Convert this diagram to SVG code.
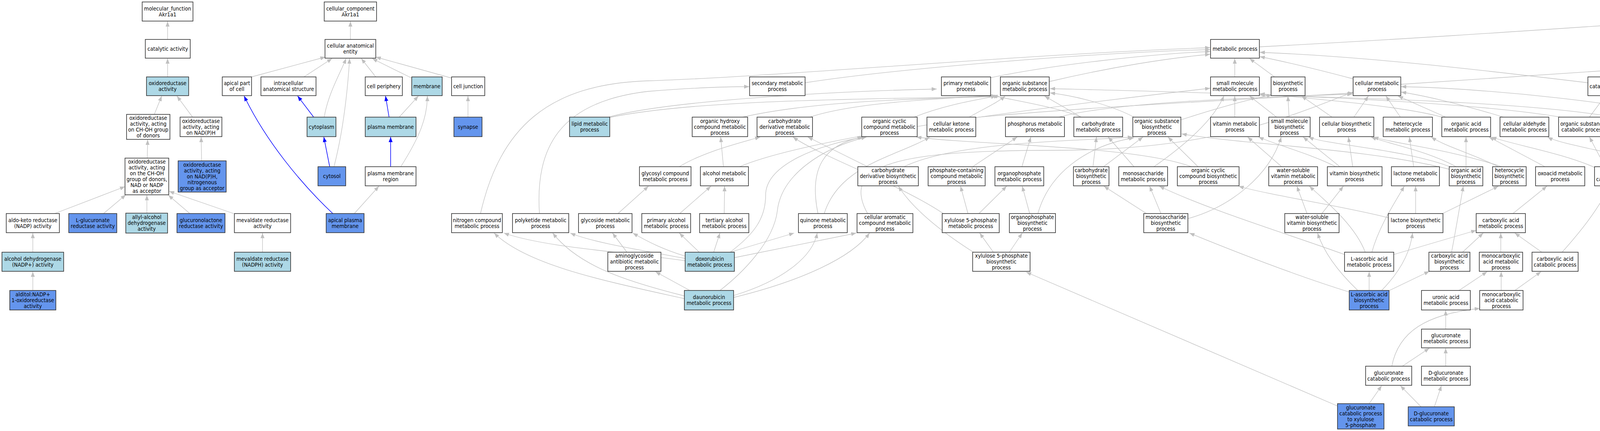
<svg xmlns="http://www.w3.org/2000/svg" width="4968" height="1104" viewBox="0 0 4968 1104">
<style>
.n rect{stroke:#333;stroke-width:1.6}
.w{fill:#fff}.lb{fill:#add8e6}.cb{fill:#6495ed}
.n text{font-family:"DejaVu Sans Condensed","DejaVu Sans",sans-serif;font-stretch:condensed;font-size:14px;text-anchor:middle;fill:#000}
.e path{fill:none;stroke:#c0c0c0;stroke-width:1.3;marker-end:url(#ag)}
.e path.b{stroke:#0000ff;stroke-width:1.5;marker-end:url(#ab)}
</style>
<defs>
<marker id="ag" viewBox="0 0 13 10" refX="13" refY="5" markerWidth="13" markerHeight="10" markerUnits="userSpaceOnUse" orient="auto"><path d="M0,0 L13,5 L0,10 z" fill="#c0c0c0"/></marker>
<marker id="ab" viewBox="0 0 13 10" refX="13" refY="5" markerWidth="13" markerHeight="10" markerUnits="userSpaceOnUse" orient="auto"><path d="M0,0 L13,5 L0,10 z" fill="#0000ff"/></marker>
</defs>
<rect width="4968" height="1104" fill="#fff"/>
<g id="edges" class="e">
<path d="M897,101 L897,55"/>
<path d="M640,198 L833,146"/>
<path d="M778,197 L850,150"/>
<path d="M830,300 C840,240 870,190 886,150"/>
<path d="M855,427 C880,330 890,230 895,150"/>
<path d="M962,197 L925,150"/>
<path d="M1054,200 L953,150"/>
<path d="M1156,200 L962,146"/>
<path class="b" d="M803,300 L762,246"/>
<path class="b" d="M844,427 L829,351"/>
<path class="b" d="M996,300 L987,246"/>
<path d="M1022,300 L1071,246"/>
<path class="b" d="M1000,427 L1000,351"/>
<path d="M1026,427 C1075,350 1094,300 1094,246"/>
<path d="M1198,300 L1198,246"/>
<path class="b" d="M852,547 C770,470 680,360 625,246"/>
<path d="M907,547 L970,477"/>
<path d="M429,101 L429,55"/>
<path d="M429,197 L429,150"/>
<path d="M395,293 L414,246"/>
<path d="M493,300 L453,246"/>
<path d="M377,405 L378,358"/>
<path d="M516,412 L515,351"/>
<path d="M140,547 L320,478"/>
<path d="M265,547 L322,499"/>
<path d="M376,546 L376,500"/>
<path d="M486,547 L431,500"/>
<path d="M598,547 L433,490"/>
<path d="M84,646 L84,597"/>
<path d="M84,744 L84,696"/>
<path d="M672,646 L672,597"/>
<path d="M3224,120 C3800,90 4300,50 4563,36"/>
<path d="M4583,101 L4609,55"/>
<path d="M4671,101 L4647,55"/>
<path d="M4896,427 C4905,280 4850,140 4684,55"/>
<path d="M4890,547 C4990,450 4920,260 4730,150"/>
<path d="M4563,197 L4564,150"/>
<path d="M4656,197 L4603,150"/>
<path d="M4686,197 L4686,150"/>
<path d="M3586,216 C4000,190 4400,160 4632,146"/>
<path d="M4065,212 C3800,180 3500,145 3225,134"/>
<path d="M3464,202 C3400,185 3300,160 3225,145"/>
<path d="M3161,197 L3161,150"/>
<path d="M3263,197 L3199,150"/>
<path d="M2686,209 C2850,170 3000,148 3098,139"/>
<path d="M2536,199 C2700,165 2950,138 3098,132"/>
<path d="M2061,212 C2300,175 2800,135 3098,127"/>
<path d="M1230,547 C1280,330 1400,215 1660,207 C2000,196 2600,140 3098,122"/>
<path d="M2711,300 C2850,262 3200,250 3462,241"/>
<path d="M1558,300 C1700,260 2100,235 2398,228"/>
<path d="M1555,302 C1800,250 2300,255 2552,246"/>
<path d="M1901,300 C2100,255 2400,252 2558,247"/>
<path d="M2073,300 C2200,258 2450,252 2545,244"/>
<path d="M2340,300 C2420,268 2500,256 2550,246"/>
<path d="M2481,300 C2520,278 2555,262 2573,246"/>
<path d="M2486,302 C2800,272 3200,255 3464,238"/>
<path d="M2768,300 C2700,272 2580,255 2541,244"/>
<path d="M2768,300 L2674,246"/>
<path d="M2903,300 C2850,272 2760,246 2688,238"/>
<path d="M3023,307 C3100,282 3180,258 3256,243"/>
<path d="M3161,300 L3161,246"/>
<path d="M3268,300 L3199,246"/>
<path d="M3300,300 L3297,246"/>
<path d="M3410,300 L3332,246"/>
<path d="M3466,300 L3503,246"/>
<path d="M3585,300 L3548,246"/>
<path d="M3701,300 L3579,246"/>
<path d="M3698,302 C3600,272 3350,252 3225,240"/>
<path d="M3849,300 C3750,270 3650,245 3587,236"/>
<path d="M4069,300 L4109,246"/>
<path d="M3995,300 C3700,250 3000,235 2688,227"/>
<path d="M4165,300 L4146,246"/>
<path d="M4145,302 C3900,258 3400,250 3225,243"/>
<path d="M4291,300 L4180,246"/>
<path d="M4290,302 C4200,268 3800,225 3587,222"/>
<path d="M4546,300 L4554,246"/>
<path d="M4656,300 L4596,246"/>
<path d="M4686,300 L4686,246"/>
<path d="M4773,300 L4605,243"/>
<path d="M1739,427 C1800,390 1880,370 1946,351"/>
<path d="M1852,427 L1845,351"/>
<path d="M1893,427 C2100,340 2800,260 3098,226"/>
<path d="M2221,427 L2068,351"/>
<path d="M2314,427 C2450,362 2750,362 2900,351"/>
<path d="M2490,427 L2604,351"/>
<path d="M2616,427 L2639,351"/>
<path d="M2798,427 L2807,351"/>
<path d="M2825,427 L2926,351"/>
<path d="M2903,427 L2837,351"/>
<path d="M2954,427 C3050,360 3110,300 3133,246"/>
<path d="M3067,427 L2990,351"/>
<path d="M3050,427 C2900,372 2500,372 2346,351"/>
<path d="M3281,427 L3194,351"/>
<path d="M3420,427 C3350,392 3270,372 3222,351"/>
<path d="M3430,427 L3336,351"/>
<path d="M3463,427 L3452,351"/>
<path d="M3619,427 L3608,351"/>
<path d="M3753,427 L3753,351"/>
<path d="M3728,427 C3650,385 3560,370 3510,351"/>
<path d="M3720,430 C3600,382 3400,372 3350,351"/>
<path d="M3712,434 C3500,380 3200,372 3025,343"/>
<path d="M3836,427 C3760,390 3700,375 3664,351"/>
<path d="M3845,427 C3700,380 3580,370 3516,351"/>
<path d="M3955,427 L3812,351"/>
<path d="M4109,427 L4069,351"/>
<path d="M4150,427 L4181,351"/>
<path d="M4176,427 L4293,351"/>
<path d="M4085,430 C4000,392 3880,372 3818,351"/>
<path d="M4250,427 C4150,392 4000,372 3962,351"/>
<path d="M4245,430 C4200,402 4140,372 4110,351"/>
<path d="M4299,427 L4327,351"/>
<path d="M4437,427 C4430,330 4460,270 4521,240"/>
<path d="M4586,427 L4554,351"/>
<path d="M4617,427 L4666,351"/>
<path d="M4745,427 L4703,351"/>
<path d="M4771,427 L4807,351"/>
<path class="b" d="M4878,427 L4841,351"/>
<path d="M1582,547 L1660,477"/>
<path d="M1381,547 C1370,380 1430,260 1660,234 C1760,226 1850,222 1918,222"/>
<path d="M1740,547 L1820,477"/>
<path d="M1854,547 L1855,477"/>
<path d="M2094,547 C2070,430 2110,370 2208,351"/>
<path d="M2110,547 C2150,420 2300,400 2380,351"/>
<path d="M2221,547 C2150,420 2300,385 2700,385 C3100,385 3300,300 3463,236"/>
<path d="M2415,547 C2300,470 2100,400 2030,351"/>
<path d="M2478,547 L2459,477"/>
<path d="M2506,547 L2577,477"/>
<path d="M2636,547 L2617,477"/>
<path d="M2657,547 C2690,430 2800,370 2903,353"/>
<path d="M2972,547 L2943,477"/>
<path d="M2935,547 L2826,477"/>
<path d="M3041,560 C3150,530 3250,450 3280,351"/>
<path d="M3346,547 L3320,477"/>
<path d="M3384,547 L3439,477"/>
<path d="M3624,547 L3624,477"/>
<path d="M3693,547 L3836,477"/>
<path d="M3555,558 C3450,530 3250,500 3171,477"/>
<path d="M3873,547 L3960,477"/>
<path d="M4567,547 L4473,477"/>
<path d="M4599,547 L4599,477"/>
<path class="b" d="M4810,547 L4773,477"/>
<path d="M4839,547 L4875,477"/>
<path d="M1605,646 L1568,597"/>
<path d="M1754,656 C1700,640 1660,620 1620,597"/>
<path d="M1754,668 C1600,645 1400,635 1290,597"/>
<path d="M1754,662 C1650,642 1520,622 1460,597"/>
<path d="M1790,646 L1739,597"/>
<path d="M1827,646 L1843,597"/>
<path d="M1869,646 L2033,597"/>
<path d="M1880,660 L2192,597"/>
<path d="M1869,646 C1930,600 1960,560 1960,500 C1960,420 2100,370 2212,351"/>
<path d="M1766,744 L1678,696"/>
<path d="M1752,765 C1550,720 1350,680 1265,597"/>
<path d="M1752,758 C1600,720 1480,680 1415,597"/>
<path d="M1878,757 C2000,720 2080,660 2092,597"/>
<path d="M1878,762 C2050,720 2180,660 2226,597"/>
<path d="M1843,744 C1900,700 1980,620 1990,540 C2000,450 2100,380 2218,351"/>
<path d="M2543,646 L2508,597"/>
<path d="M2584,646 L2617,597"/>
<path d="M2492,646 C2420,600 2340,540 2300,477"/>
<path d="M3495,646 C3470,580 3400,520 3352,477"/>
<path d="M3512,646 C3530,580 3570,520 3595,477"/>
<path d="M3568,652 L3779,590"/>
<path d="M3442,652 C3300,600 3100,540 2968,477"/>
<path d="M3744,646 L3797,597"/>
<path d="M3716,646 C3725,600 3735,540 3746,477"/>
<path d="M3842,646 L3842,597"/>
<path d="M3947,646 L3878,597"/>
<path d="M3999,646 C4040,600 4090,540 4120,477"/>
<path d="M3505,744 L3505,696"/>
<path d="M3476,744 C3430,700 3390,650 3373,597"/>
<path d="M3537,744 C3580,700 3610,650 3616,597"/>
<path d="M3557,744 L3659,695"/>
<path d="M3454,748 C3300,700 3150,640 3045,597"/>
<path d="M3735,744 L3807,696"/>
<path d="M3843,744 L3843,696"/>
<path d="M3878,744 L3945,696"/>
<path d="M3701,843 L3701,795"/>
<path d="M3590,938 L3659,892"/>
<path d="M3563,938 C3580,850 3650,805 3788,790"/>
<path d="M3701,938 L3701,892"/>
<path d="M3505,1034 L3537,988"/>
<path d="M3424,1040 L2627,697"/>
<path d="M3638,1042 L3585,988"/>
<path d="M3672,1042 L3690,988"/>
<path class="b" d="M4683,646 L4626,597"/>
<path d="M4738,646 L4792,597"/>
</g>
<g id="n-mf" class="n"><rect class="w" x="364" y="5" width="130" height="49"/><text x="429" y="26.5"><tspan x="429">molecular_function</tspan><tspan x="429" dy="15">Akr1a1</tspan></text></g>
<g id="n-cat" class="n"><rect class="w" x="372" y="101" width="115" height="48"/><text x="429.5" y="129.5">catalytic activity</text></g>
<g id="n-oxr" class="n"><rect class="lb" x="375" y="197" width="108" height="48"/><text x="429" y="218"><tspan x="429">oxidoreductase</tspan><tspan x="429" dy="15">activity</tspan></text></g>
<g id="n-choh" class="n"><rect class="w" x="324" y="293" width="111" height="64"/><text x="379.5" y="307"><tspan x="379.5">oxidoreductase</tspan><tspan x="379.5" dy="15">activity, acting</tspan><tspan x="379.5" dy="15">on CH-OH group</tspan><tspan x="379.5" dy="15">of donors</tspan></text></g>
<g id="n-nadph" class="n"><rect class="w" x="461" y="300" width="107" height="50"/><text x="514.5" y="314.5"><tspan x="514.5">oxidoreductase</tspan><tspan x="514.5" dy="15">activity, acting</tspan><tspan x="514.5" dy="15">on NAD(P)H</tspan></text></g>
<g id="n-nadp" class="n"><rect class="w" x="320" y="405" width="112" height="94"/><text x="376" y="419"><tspan x="376">oxidoreductase</tspan><tspan x="376" dy="15">activity, acting</tspan><tspan x="376" dy="15">on the CH-OH</tspan><tspan x="376" dy="15">group of donors,</tspan><tspan x="376" dy="15">NAD or NADP</tspan><tspan x="376" dy="15">as acceptor</tspan></text></g>
<g id="n-nitromf" class="n"><rect class="cb" x="456" y="412" width="123" height="80"/><text x="517.5" y="426.5"><tspan x="517.5">oxidoreductase</tspan><tspan x="517.5" dy="15">activity, acting</tspan><tspan x="517.5" dy="15">on NAD(P)H,</tspan><tspan x="517.5" dy="15">nitrogenous</tspan><tspan x="517.5" dy="15">group as acceptor</tspan></text></g>
<g id="n-akr" class="n"><rect class="w" x="16" y="547" width="136" height="49"/><text x="84" y="568.5"><tspan x="84">aldo-keto reductase</tspan><tspan x="84" dy="15">(NADP) activity</tspan></text></g>
<g id="n-lglr" class="n"><rect class="cb" x="176" y="547" width="123" height="49"/><text x="237.5" y="568.5"><tspan x="237.5">L-glucuronate</tspan><tspan x="237.5" dy="15">reductase activity</tspan></text></g>
<g id="n-allyl" class="n"><rect class="lb" x="322" y="546" width="107" height="51"/><text x="375.5" y="561"><tspan x="375.5">allyl-alcohol</tspan><tspan x="375.5" dy="15">dehydrogenase</tspan><tspan x="375.5" dy="15">activity</tspan></text></g>
<g id="n-glr" class="n"><rect class="cb" x="453" y="547" width="123" height="49"/><text x="514.5" y="568.5"><tspan x="514.5">glucuronolactone</tspan><tspan x="514.5" dy="15">reductase activity</tspan></text></g>
<g id="n-mev" class="n"><rect class="w" x="600" y="547" width="144" height="49"/><text x="672" y="568.5"><tspan x="672">mevaldate reductase</tspan><tspan x="672" dy="15">activity</tspan></text></g>
<g id="n-adh" class="n"><rect class="lb" x="5" y="646" width="158" height="49"/><text x="84" y="667.5"><tspan x="84">alcohol dehydrogenase</tspan><tspan x="84" dy="15">(NADP+) activity</tspan></text></g>
<g id="n-mevh" class="n"><rect class="lb" x="600" y="646" width="144" height="49"/><text x="672" y="667.5"><tspan x="672">mevaldate reductase</tspan><tspan x="672" dy="15">(NADPH) activity</tspan></text></g>
<g id="n-alditol" class="n"><rect class="cb" x="25" y="744" width="118" height="50"/><text x="84" y="758.5"><tspan x="84">alditol:NADP+</tspan><tspan x="84" dy="15">1-oxidoreductase</tspan><tspan x="84" dy="15">activity</tspan></text></g>
<g id="n-cc" class="n"><rect class="w" x="830" y="5" width="134" height="49"/><text x="897" y="26.5"><tspan x="897">cellular_component</tspan><tspan x="897" dy="15">Akr1a1</tspan></text></g>
<g id="n-cae" class="n"><rect class="w" x="832" y="101" width="130" height="48"/><text x="897" y="122"><tspan x="897">cellular anatomical</tspan><tspan x="897" dy="15">entity</tspan></text></g>
<g id="n-apc" class="n"><rect class="w" x="569" y="197" width="75" height="48"/><text x="606.5" y="218"><tspan x="606.5">apical part</tspan><tspan x="606.5" dy="15">of cell</tspan></text></g>
<g id="n-ias" class="n"><rect class="w" x="668" y="197" width="141" height="48"/><text x="738.5" y="218"><tspan x="738.5">intracellular</tspan><tspan x="738.5" dy="15">anatomical structure</tspan></text></g>
<g id="n-cper" class="n"><rect class="w" x="935" y="197" width="95" height="48"/><text x="982.5" y="225.5">cell periphery</text></g>
<g id="n-mem" class="n"><rect class="lb" x="1054" y="197" width="78" height="48"/><text x="1093" y="225.5">membrane</text></g>
<g id="n-cj" class="n"><rect class="w" x="1156" y="197" width="85" height="48"/><text x="1198.5" y="225.5">cell junction</text></g>
<g id="n-cyto" class="n"><rect class="lb" x="786" y="300" width="74" height="50"/><text x="823" y="329.5">cytoplasm</text></g>
<g id="n-pm" class="n"><rect class="lb" x="935" y="300" width="130" height="50"/><text x="1000" y="329.5">plasma membrane</text></g>
<g id="n-syn" class="n"><rect class="cb" x="1162" y="300" width="72" height="50"/><text x="1198" y="329.5">synapse</text></g>
<g id="n-cytosol" class="n"><rect class="cb" x="814" y="427" width="71" height="49"/><text x="849.5" y="456">cytosol</text></g>
<g id="n-pmr" class="n"><rect class="w" x="935" y="427" width="130" height="49"/><text x="1000" y="448.5"><tspan x="1000">plasma membrane</tspan><tspan x="1000" dy="15">region</tspan></text></g>
<g id="n-apm" class="n"><rect class="cb" x="835" y="547" width="97" height="49"/><text x="883.5" y="568.5"><tspan x="883.5">apical plasma</tspan><tspan x="883.5" dy="15">membrane</tspan></text></g>
<g id="n-bp" class="n"><rect class="w" x="4564" y="5" width="126" height="49"/><text x="4627" y="26.5"><tspan x="4627">biological_process</tspan><tspan x="4627" dy="15">Akr1a1</tspan></text></g>
<g id="n-metab" class="n"><rect class="w" x="3099" y="101" width="125" height="48"/><text x="3161.5" y="129.5">metabolic process</text></g>
<g id="n-rstim" class="n"><rect class="w" x="4525" y="101" width="83" height="48"/><text x="4566.5" y="122"><tspan x="4566.5">response to</tspan><tspan x="4566.5" dy="15">stimulus</tspan></text></g>
<g id="n-cellp" class="n"><rect class="w" x="4633" y="101" width="107" height="48"/><text x="4686.5" y="129.5">cellular process</text></g>
<g id="n-sec" class="n"><rect class="w" x="1919" y="197" width="142" height="48"/><text x="1990" y="218"><tspan x="1990">secondary metabolic</tspan><tspan x="1990" dy="15">process</tspan></text></g>
<g id="n-prim" class="n"><rect class="w" x="2410" y="197" width="126" height="48"/><text x="2473" y="218"><tspan x="2473">primary metabolic</tspan><tspan x="2473" dy="15">process</tspan></text></g>
<g id="n-osm" class="n"><rect class="w" x="2561" y="197" width="125" height="48"/><text x="2623.5" y="218"><tspan x="2623.5">organic substance</tspan><tspan x="2623.5" dy="15">metabolic process</tspan></text></g>
<g id="n-smm" class="n"><rect class="w" x="3099" y="197" width="125" height="48"/><text x="3161.5" y="218"><tspan x="3161.5">small molecule</tspan><tspan x="3161.5" dy="15">metabolic process</tspan></text></g>
<g id="n-bios" class="n"><rect class="w" x="3254" y="197" width="87" height="48"/><text x="3297.5" y="218"><tspan x="3297.5">biosynthetic</tspan><tspan x="3297.5" dy="15">process</tspan></text></g>
<g id="n-cmp" class="n"><rect class="w" x="3464" y="197" width="122" height="48"/><text x="3525" y="218"><tspan x="3525">cellular metabolic</tspan><tspan x="3525" dy="15">process</tspan></text></g>
<g id="n-catab" class="n"><rect class="w" x="4065" y="197" width="118" height="48"/><text x="4124" y="225.5">catabolic process</text></g>
<g id="n-rchem" class="n"><rect class="w" x="4521" y="197" width="83" height="48"/><text x="4562.5" y="218"><tspan x="4562.5">response to</tspan><tspan x="4562.5" dy="15">chemical</tspan></text></g>
<g id="n-crstim" class="n"><rect class="w" x="4627" y="197" width="118" height="48"/><text x="4686" y="218"><tspan x="4686">cellular response</tspan><tspan x="4686" dy="15">to stimulus</tspan></text></g>
<g id="n-lipid" class="n"><rect class="lb" x="1458" y="300" width="103" height="50"/><text x="1509.5" y="322"><tspan x="1509.5">lipid metabolic</tspan><tspan x="1509.5" dy="15">process</tspan></text></g>
<g id="n-ohc" class="n"><rect class="w" x="1772" y="300" width="142" height="50"/><text x="1843" y="314.5"><tspan x="1843">organic hydroxy</tspan><tspan x="1843" dy="15">compound metabolic</tspan><tspan x="1843" dy="15">process</tspan></text></g>
<g id="n-cdm" class="n"><rect class="w" x="1938" y="300" width="142" height="50"/><text x="2009" y="314.5"><tspan x="2009">carbohydrate</tspan><tspan x="2009" dy="15">derivative metabolic</tspan><tspan x="2009" dy="15">process</tspan></text></g>
<g id="n-occm" class="n"><rect class="w" x="2206" y="300" width="142" height="50"/><text x="2277" y="314.5"><tspan x="2277">organic cyclic</tspan><tspan x="2277" dy="15">compound metabolic</tspan><tspan x="2277" dy="15">process</tspan></text></g>
<g id="n-ckm" class="n"><rect class="w" x="2373" y="300" width="125" height="50"/><text x="2435.5" y="322"><tspan x="2435.5">cellular ketone</tspan><tspan x="2435.5" dy="15">metabolic process</tspan></text></g>
<g id="n-phos" class="n"><rect class="w" x="2574" y="300" width="151" height="50"/><text x="2649.5" y="322"><tspan x="2649.5">phosphorus metabolic</tspan><tspan x="2649.5" dy="15">process</tspan></text></g>
<g id="n-carbm" class="n"><rect class="w" x="2749" y="300" width="125" height="50"/><text x="2811.5" y="322"><tspan x="2811.5">carbohydrate</tspan><tspan x="2811.5" dy="15">metabolic process</tspan></text></g>
<g id="n-osb" class="n"><rect class="w" x="2900" y="300" width="123" height="50"/><text x="2961.5" y="314.5"><tspan x="2961.5">organic substance</tspan><tspan x="2961.5" dy="15">biosynthetic</tspan><tspan x="2961.5" dy="15">process</tspan></text></g>
<g id="n-vitm" class="n"><rect class="w" x="3099" y="300" width="125" height="50"/><text x="3161.5" y="322"><tspan x="3161.5">vitamin metabolic</tspan><tspan x="3161.5" dy="15">process</tspan></text></g>
<g id="n-smb" class="n"><rect class="w" x="3248" y="300" width="106" height="50"/><text x="3301" y="314.5"><tspan x="3301">small molecule</tspan><tspan x="3301" dy="15">biosynthetic</tspan><tspan x="3301" dy="15">process</tspan></text></g>
<g id="n-cbp" class="n"><rect class="w" x="3378" y="300" width="139" height="50"/><text x="3447.5" y="322"><tspan x="3447.5">cellular biosynthetic</tspan><tspan x="3447.5" dy="15">process</tspan></text></g>
<g id="n-hetm" class="n"><rect class="w" x="3541" y="300" width="126" height="50"/><text x="3604" y="322"><tspan x="3604">heterocycle</tspan><tspan x="3604" dy="15">metabolic process</tspan></text></g>
<g id="n-oam" class="n"><rect class="w" x="3691" y="300" width="125" height="50"/><text x="3753.5" y="322"><tspan x="3753.5">organic acid</tspan><tspan x="3753.5" dy="15">metabolic process</tspan></text></g>
<g id="n-cald" class="n"><rect class="w" x="3840" y="300" width="125" height="50"/><text x="3902.5" y="322"><tspan x="3902.5">cellular aldehyde</tspan><tspan x="3902.5" dy="15">metabolic process</tspan></text></g>
<g id="n-osc" class="n"><rect class="w" x="3990" y="300" width="124" height="50"/><text x="4052" y="322"><tspan x="4052">organic substance</tspan><tspan x="4052" dy="15">catabolic process</tspan></text></g>
<g id="n-smc" class="n"><rect class="w" x="4138" y="300" width="118" height="50"/><text x="4197" y="322"><tspan x="4197">small molecule</tspan><tspan x="4197" dy="15">catabolic process</tspan></text></g>
<g id="n-ccat" class="n"><rect class="w" x="4281" y="300" width="117" height="50"/><text x="4339.5" y="322"><tspan x="4339.5">cellular catabolic</tspan><tspan x="4339.5" dy="15">process</tspan></text></g>
<g id="n-roxy" class="n"><rect class="w" x="4477" y="300" width="126" height="50"/><text x="4540" y="314.5"><tspan x="4540">response to</tspan><tspan x="4540" dy="15">oxygen-containing</tspan><tspan x="4540" dy="15">compound</tspan></text></g>
<g id="n-crchem" class="n"><rect class="w" x="4627" y="300" width="118" height="50"/><text x="4686" y="314.5"><tspan x="4686">cellular response</tspan><tspan x="4686" dy="15">to chemical</tspan><tspan x="4686" dy="15">stimulus</tspan></text></g>
<g id="n-rtox" class="n"><rect class="w" x="4770" y="300" width="108" height="50"/><text x="4824" y="322"><tspan x="4824">response to</tspan><tspan x="4824" dy="15">toxic substance</tspan></text></g>
<g id="n-glycosyl" class="n"><rect class="w" x="1637" y="427" width="132" height="49"/><text x="1703" y="448.5"><tspan x="1703">glycosyl compound</tspan><tspan x="1703" dy="15">metabolic process</tspan></text></g>
<g id="n-alc" class="n"><rect class="w" x="1793" y="427" width="123" height="49"/><text x="1854.5" y="448.5"><tspan x="1854.5">alcohol metabolic</tspan><tspan x="1854.5" dy="15">process</tspan></text></g>
<g id="n-cdb" class="n"><rect class="w" x="2196" y="427" width="155" height="49"/><text x="2273.5" y="441"><tspan x="2273.5">carbohydrate</tspan><tspan x="2273.5" dy="15">derivative biosynthetic</tspan><tspan x="2273.5" dy="15">process</tspan></text></g>
<g id="n-pcc" class="n"><rect class="w" x="2376" y="427" width="146" height="49"/><text x="2449" y="441"><tspan x="2449">phosphate-containing</tspan><tspan x="2449" dy="15">compound metabolic</tspan><tspan x="2449" dy="15">process</tspan></text></g>
<g id="n-opm" class="n"><rect class="w" x="2547" y="427" width="125" height="49"/><text x="2609.5" y="448.5"><tspan x="2609.5">organophosphate</tspan><tspan x="2609.5" dy="15">metabolic process</tspan></text></g>
<g id="n-carbb" class="n"><rect class="w" x="2748" y="427" width="91" height="49"/><text x="2793.5" y="441"><tspan x="2793.5">carbohydrate</tspan><tspan x="2793.5" dy="15">biosynthetic</tspan><tspan x="2793.5" dy="15">process</tspan></text></g>
<g id="n-monom" class="n"><rect class="w" x="2864" y="427" width="125" height="49"/><text x="2926.5" y="448.5"><tspan x="2926.5">monosaccharide</tspan><tspan x="2926.5" dy="15">metabolic process</tspan></text></g>
<g id="n-occb" class="n"><rect class="w" x="3014" y="427" width="158" height="49"/><text x="3093" y="441"><tspan x="3093">organic cyclic</tspan><tspan x="3093" dy="15">compound biosynthetic</tspan><tspan x="3093" dy="15">process</tspan></text></g>
<g id="n-wsvm" class="n"><rect class="w" x="3248" y="427" width="125" height="49"/><text x="3310.5" y="441"><tspan x="3310.5">water-soluble</tspan><tspan x="3310.5" dy="15">vitamin metabolic</tspan><tspan x="3310.5" dy="15">process</tspan></text></g>
<g id="n-vitb" class="n"><rect class="w" x="3398" y="427" width="140" height="49"/><text x="3468" y="448.5"><tspan x="3468">vitamin biosynthetic</tspan><tspan x="3468" dy="15">process</tspan></text></g>
<g id="n-lacm" class="n"><rect class="w" x="3562" y="427" width="123" height="49"/><text x="3623.5" y="448.5"><tspan x="3623.5">lactone metabolic</tspan><tspan x="3623.5" dy="15">process</tspan></text></g>
<g id="n-oab" class="n"><rect class="w" x="3710" y="427" width="86" height="49"/><text x="3753" y="441"><tspan x="3753">organic acid</tspan><tspan x="3753" dy="15">biosynthetic</tspan><tspan x="3753" dy="15">process</tspan></text></g>
<g id="n-hetb" class="n"><rect class="w" x="3821" y="427" width="86" height="49"/><text x="3864" y="441"><tspan x="3864">heterocycle</tspan><tspan x="3864" dy="15">biosynthetic</tspan><tspan x="3864" dy="15">process</tspan></text></g>
<g id="n-oxo" class="n"><rect class="w" x="3931" y="427" width="126" height="49"/><text x="3994" y="448.5"><tspan x="3994">oxoacid metabolic</tspan><tspan x="3994" dy="15">process</tspan></text></g>
<g id="n-oac" class="n"><rect class="w" x="4082" y="427" width="118" height="49"/><text x="4141" y="448.5"><tspan x="4141">organic acid</tspan><tspan x="4141" dy="15">catabolic process</tspan></text></g>
<g id="n-aldc" class="n"><rect class="cb" x="4225" y="427" width="128" height="49"/><text x="4289" y="448.5"><tspan x="4289">aldehyde catabolic</tspan><tspan x="4289" dy="15">process</tspan></text></g>
<g id="n-rorg" class="n"><rect class="w" x="4378" y="427" width="124" height="49"/><text x="4440" y="448.5"><tspan x="4440">response to</tspan><tspan x="4440" dy="15">organic substance</tspan></text></g>
<g id="n-croxy" class="n"><rect class="w" x="4526" y="427" width="145" height="49"/><text x="4598.5" y="441"><tspan x="4598.5">cellular response</tspan><tspan x="4598.5" dy="15">to oxygen-containing</tspan><tspan x="4598.5" dy="15">compound</tspan></text></g>
<g id="n-crtox" class="n"><rect class="w" x="4694" y="427" width="126" height="49"/><text x="4757" y="448.5"><tspan x="4757">cellular response</tspan><tspan x="4757" dy="15">to toxic substance</tspan></text></g>
<g id="n-detox" class="n"><rect class="w" x="4844" y="427" width="95" height="49"/><text x="4891.5" y="456">detoxification</text></g>
<g id="n-nitro" class="n"><rect class="w" x="1156" y="547" width="130" height="49"/><text x="1221" y="568.5"><tspan x="1221">nitrogen compound</tspan><tspan x="1221" dy="15">metabolic process</tspan></text></g>
<g id="n-polyk" class="n"><rect class="w" x="1312" y="547" width="144" height="49"/><text x="1384" y="568.5"><tspan x="1384">polyketide metabolic</tspan><tspan x="1384" dy="15">process</tspan></text></g>
<g id="n-glycoside" class="n"><rect class="w" x="1481" y="547" width="137" height="49"/><text x="1549.5" y="568.5"><tspan x="1549.5">glycoside metabolic</tspan><tspan x="1549.5" dy="15">process</tspan></text></g>
<g id="n-primalc" class="n"><rect class="w" x="1643" y="547" width="125" height="49"/><text x="1705.5" y="568.5"><tspan x="1705.5">primary alcohol</tspan><tspan x="1705.5" dy="15">metabolic process</tspan></text></g>
<g id="n-tertalc" class="n"><rect class="w" x="1791" y="547" width="126" height="49"/><text x="1854" y="568.5"><tspan x="1854">tertiary alcohol</tspan><tspan x="1854" dy="15">metabolic process</tspan></text></g>
<g id="n-quin" class="n"><rect class="w" x="2044" y="547" width="125" height="49"/><text x="2106.5" y="568.5"><tspan x="2106.5">quinone metabolic</tspan><tspan x="2106.5" dy="15">process</tspan></text></g>
<g id="n-caro" class="n"><rect class="w" x="2194" y="547" width="143" height="49"/><text x="2265.5" y="561"><tspan x="2265.5">cellular aromatic</tspan><tspan x="2265.5" dy="15">compound metabolic</tspan><tspan x="2265.5" dy="15">process</tspan></text></g>
<g id="n-x5pm" class="n"><rect class="w" x="2412" y="547" width="146" height="49"/><text x="2485" y="568.5"><tspan x="2485">xylulose 5-phosphate</tspan><tspan x="2485" dy="15">metabolic process</tspan></text></g>
<g id="n-opb" class="n"><rect class="w" x="2584" y="547" width="118" height="49"/><text x="2643" y="561"><tspan x="2643">organophosphate</tspan><tspan x="2643" dy="15">biosynthetic</tspan><tspan x="2643" dy="15">process</tspan></text></g>
<g id="n-monob" class="n"><rect class="w" x="2928" y="547" width="113" height="49"/><text x="2984.5" y="561"><tspan x="2984.5">monosaccharide</tspan><tspan x="2984.5" dy="15">biosynthetic</tspan><tspan x="2984.5" dy="15">process</tspan></text></g>
<g id="n-wsvb" class="n"><rect class="w" x="3289" y="547" width="139" height="49"/><text x="3358.5" y="561"><tspan x="3358.5">water-soluble</tspan><tspan x="3358.5" dy="15">vitamin biosynthetic</tspan><tspan x="3358.5" dy="15">process</tspan></text></g>
<g id="n-lacb" class="n"><rect class="w" x="3554" y="547" width="140" height="49"/><text x="3624" y="568.5"><tspan x="3624">lactone biosynthetic</tspan><tspan x="3624" dy="15">process</tspan></text></g>
<g id="n-cam" class="n"><rect class="w" x="3779" y="547" width="126" height="49"/><text x="3842" y="568.5"><tspan x="3842">carboxylic acid</tspan><tspan x="3842" dy="15">metabolic process</tspan></text></g>
<g id="n-cral" class="n"><rect class="w" x="4540" y="547" width="117" height="49"/><text x="4598.5" y="568.5"><tspan x="4598.5">cellular response</tspan><tspan x="4598.5" dy="15">to aldehyde</tspan></text></g>
<g id="n-cdetox" class="n"><rect class="w" x="4751" y="547" width="146" height="49"/><text x="4824" y="576">cellular detoxification</text></g>
<g id="n-amino" class="n"><rect class="w" x="1556" y="646" width="136" height="49"/><text x="1624" y="660"><tspan x="1624">aminoglycoside</tspan><tspan x="1624" dy="15">antibiotic metabolic</tspan><tspan x="1624" dy="15">process</tspan></text></g>
<g id="n-doxo" class="n"><rect class="lb" x="1754" y="646" width="126" height="49"/><text x="1817" y="667.5"><tspan x="1817">doxorubicin</tspan><tspan x="1817" dy="15">metabolic process</tspan></text></g>
<g id="n-x5pb" class="n"><rect class="w" x="2490" y="646" width="147" height="49"/><text x="2563.5" y="660"><tspan x="2563.5">xylulose 5-phosphate</tspan><tspan x="2563.5" dy="15">biosynthetic</tspan><tspan x="2563.5" dy="15">process</tspan></text></g>
<g id="n-lasm" class="n"><rect class="w" x="3442" y="646" width="126" height="49"/><text x="3505" y="667.5"><tspan x="3505">L-ascorbic acid</tspan><tspan x="3505" dy="15">metabolic process</tspan></text></g>
<g id="n-cab" class="n"><rect class="w" x="3658" y="646" width="105" height="49"/><text x="3710.5" y="660"><tspan x="3710.5">carboxylic acid</tspan><tspan x="3710.5" dy="15">biosynthetic</tspan><tspan x="3710.5" dy="15">process</tspan></text></g>
<g id="n-mcam" class="n"><rect class="w" x="3787" y="646" width="111" height="49"/><text x="3842.5" y="660"><tspan x="3842.5">monocarboxylic</tspan><tspan x="3842.5" dy="15">acid metabolic</tspan><tspan x="3842.5" dy="15">process</tspan></text></g>
<g id="n-cac" class="n"><rect class="w" x="3922" y="646" width="118" height="49"/><text x="3981" y="667.5"><tspan x="3981">carboxylic acid</tspan><tspan x="3981" dy="15">catabolic process</tspan></text></g>
<g id="n-cdal" class="n"><rect class="cb" x="4637" y="646" width="147" height="49"/><text x="4710.5" y="667.5"><tspan x="4710.5">cellular detoxification</tspan><tspan x="4710.5" dy="15">of aldehyde</tspan></text></g>
<g id="n-dauno" class="n"><rect class="lb" x="1752" y="744" width="126" height="50"/><text x="1815" y="766"><tspan x="1815">daunorubicin</tspan><tspan x="1815" dy="15">metabolic process</tspan></text></g>
<g id="n-lasb" class="n"><rect class="cb" x="3454" y="744" width="102" height="50"/><text x="3505" y="758.5"><tspan x="3505">L-ascorbic acid</tspan><tspan x="3505" dy="15">biosynthetic</tspan><tspan x="3505" dy="15">process</tspan></text></g>
<g id="n-uron" class="n"><rect class="w" x="3639" y="744" width="125" height="50"/><text x="3701.5" y="766"><tspan x="3701.5">uronic acid</tspan><tspan x="3701.5" dy="15">metabolic process</tspan></text></g>
<g id="n-mcac" class="n"><rect class="w" x="3788" y="744" width="111" height="50"/><text x="3843.5" y="758.5"><tspan x="3843.5">monocarboxylic</tspan><tspan x="3843.5" dy="15">acid catabolic</tspan><tspan x="3843.5" dy="15">process</tspan></text></g>
<g id="n-glcm" class="n"><rect class="w" x="3639" y="843" width="125" height="48"/><text x="3701.5" y="864"><tspan x="3701.5">glucuronate</tspan><tspan x="3701.5" dy="15">metabolic process</tspan></text></g>
<g id="n-glcc" class="n"><rect class="w" x="3496" y="938" width="118" height="49"/><text x="3555" y="959.5"><tspan x="3555">glucuronate</tspan><tspan x="3555" dy="15">catabolic process</tspan></text></g>
<g id="n-dglcm" class="n"><rect class="w" x="3639" y="938" width="125" height="49"/><text x="3701.5" y="959.5"><tspan x="3701.5">D-glucuronate</tspan><tspan x="3701.5" dy="15">metabolic process</tspan></text></g>
<g id="n-glcx" class="n"><rect class="cb" x="3424" y="1034" width="119" height="65"/><text x="3483.5" y="1048.5"><tspan x="3483.5">glucuronate</tspan><tspan x="3483.5" dy="15">catabolic process</tspan><tspan x="3483.5" dy="15">to xylulose</tspan><tspan x="3483.5" dy="15">5-phosphate</tspan></text></g>
<g id="n-dglcc" class="n"><rect class="cb" x="3605" y="1042" width="118" height="49"/><text x="3664" y="1063.5"><tspan x="3664">D-glucuronate</tspan><tspan x="3664" dy="15">catabolic process</tspan></text></g>
</svg>
